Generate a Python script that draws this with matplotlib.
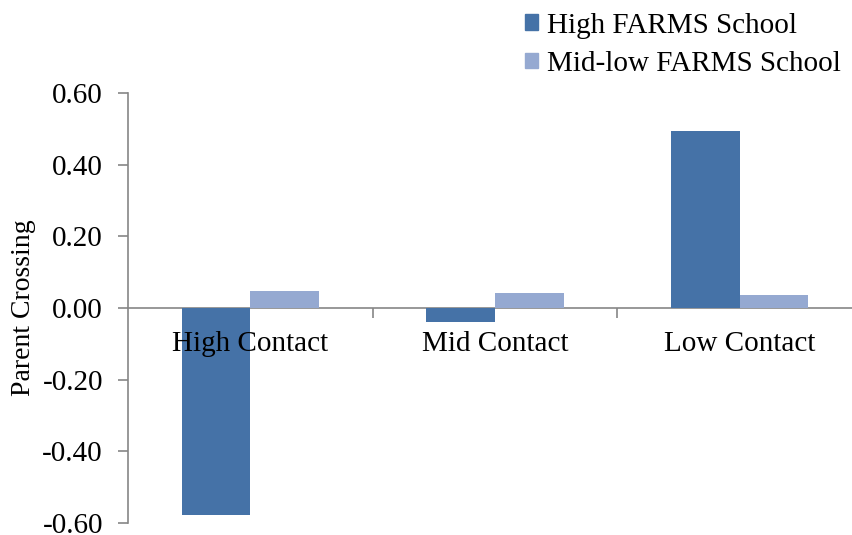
import matplotlib.pyplot as plt
from matplotlib.patches import Patch
import numpy as np

categories = ['High Contact', 'Mid Contact', 'Low Contact']
high_farms = [-0.578, -0.040, 0.495]
midlow_farms = [0.047, 0.043, 0.036]
series_names = ['High FARMS School', 'Mid-low FARMS School']
yticks = [-0.6, -0.4, -0.2, 0.0, 0.2, 0.4, 0.6]

dark = '#4572A7'
light = '#95A9D1'
axis_gray = '#868686'
fs = 21

plt.rcParams['font.family'] = ['Liberation Serif', 'DejaVu Serif']

fig = plt.figure(figsize=(8.53, 5.35), dpi=100)
ax = fig.add_axes([128 / 853, 12 / 535, 734 / 853, 430 / 535])

x = np.arange(len(categories))
w = 0.28
ax.bar(x - w / 2, high_farms, w, color=dark, zorder=3)
ax.bar(x + w / 2, midlow_farms, w, color=light, zorder=3)

ax.set_xlim(-0.5, 2.5)
ax.set_ylim(-0.6, 0.6)
ax.set_yticks(yticks)
ax.set_yticklabels(['%.2f' % v for v in yticks], fontsize=fs)
ax.tick_params(axis='y', direction='out', length=7, width=1.2, color=axis_gray, pad=11)

# category axis sits on the zero line, ticks between groups
ax.spines['bottom'].set_position(('data', 0))
ax.spines['bottom'].set_color(axis_gray)
ax.spines['bottom'].set_linewidth(1.2)
ax.spines['left'].set_color(axis_gray)
ax.spines['left'].set_linewidth(1.2)
ax.spines['top'].set_visible(False)
ax.spines['right'].set_visible(False)
ax.set_xticks([0.5, 1.5, 2.5])
ax.set_xticklabels([])
ax.tick_params(axis='x', direction='out', length=7, width=1.2, color=axis_gray)

for i, name in enumerate(categories):
    ax.annotate(name, xy=(i, 0), xytext=(0, -26), textcoords='offset points',
                ha='center', va='center', fontsize=fs, zorder=5)

ax.set_ylabel('Parent Crossing', fontsize=20)
ax.yaxis.set_label_coords(-92 / 734, 0.5)

handles = [Patch(color=dark), Patch(color=light)]
fig.legend(handles, series_names, loc='upper left',
           bbox_to_anchor=(513 / 853, 1 - 1 / 535), frameon=False,
           fontsize=fs, handlelength=0.45, handleheight=0.45,
           handletextpad=0.3, labelspacing=0.42, borderaxespad=0)

fig.savefig('out.png', dpi=100)
